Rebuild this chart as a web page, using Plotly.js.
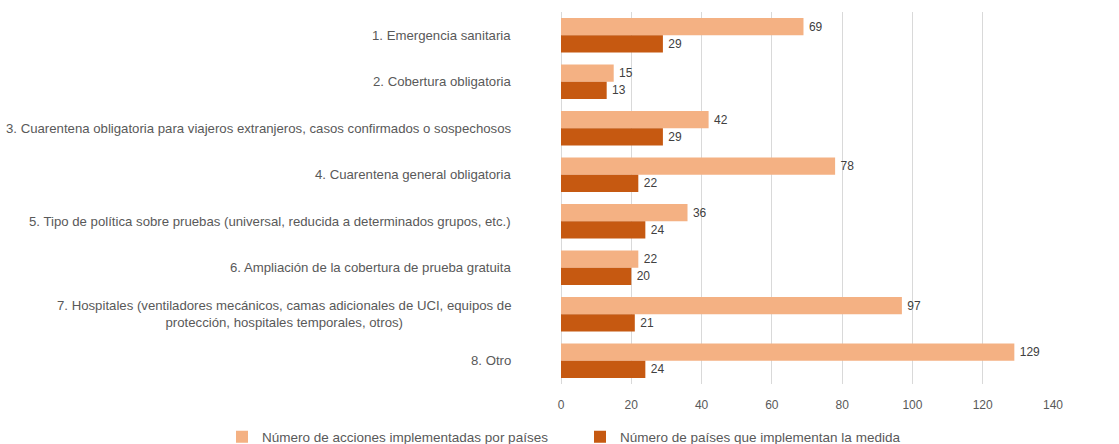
<!DOCTYPE html>
<html>
<head>
<meta charset="utf-8">
<script src="https://cdn.plot.ly/plotly-3.0.1.min.js"></script>
<style>html,body{margin:0;padding:0;background:#fff;}#chart{width:1119px;height:444px;}</style>
</head>
<body>
<div id="chart"></div>
<script>
const categories = [
  "1. Emergencia sanitaria",
  "2. Cobertura obligatoria",
  "3. Cuarentena obligatoria para viajeros extranjeros, casos confirmados o sospechosos",
  "4. Cuarentena general obligatoria",
  "5. Tipo de política sobre pruebas (universal, reducida a determinados grupos, etc.)",
  "6. Ampliación de la cobertura de prueba gratuita",
  "7. Hospitales (ventiladores mecánicos, camas adicionales de UCI, equipos de<br>protección, hospitales temporales, otros)",
  "8. Otro"
];
const accionesName = "Número de acciones implementadas por países";
const accionesValues = [69, 15, 42, 78, 36, 22, 97, 129];
const paisesName = "Número de países que implementan la medida";
const paisesValues = [29, 13, 29, 22, 24, 20, 21, 24];
const xTicks = [0, 20, 40, 60, 80, 100, 120, 140];

const FONT = "Liberation Sans, Arial, sans-serif";
const TXT = "#595959";

const traces = [
  {
    type: "bar", orientation: "h", name: accionesName,
    y: categories, x: accionesValues,
    marker: {color: "#F4B183"},
    text: accionesValues.map(v => "\u2009" + v), textposition: "outside",
    textfont: {family: FONT, size: 12, color: "#404040"},
    cliponaxis: false
  },
  {
    type: "bar", orientation: "h", name: paisesName,
    y: categories, x: paisesValues,
    marker: {color: "#C65911"},
    text: paisesValues.map(v => "\u2009" + v), textposition: "outside",
    textfont: {family: FONT, size: 12, color: "#404040"},
    cliponaxis: false
  }
];

const annotations = categories.map(c => ({
  xref: "paper", yref: "y", x: 0, y: c, xanchor: "right", yanchor: "middle",
  xshift: -48, text: c, showarrow: false, align: "center",
  font: {family: FONT, size: 13.2, color: TXT}
}));

const layout = {
  width: 1119, height: 444,
  margin: {l: 561, r: 66, t: 12, b: 60, autoexpand: false},
  paper_bgcolor: "#fff", plot_bgcolor: "#fff",
  barmode: "group", bargap: 0.26, bargroupgap: 0,
  font: {family: FONT, size: 12, color: TXT},
  xaxis: {
    range: [0, 140], tickvals: xTicks, ticktext: xTicks.map(String),
    showgrid: true, gridcolor: "#D9D9D9", gridwidth: 1,
    zeroline: true, zerolinecolor: "#D9D9D9", zerolinewidth: 1,
    showline: false, ticks: "", ticklabelstandoff: 12,
    tickfont: {family: FONT, size: 12, color: TXT}, fixedrange: true,
    automargin: false
  },
  yaxis: {
    type: "category", autorange: "reversed", showticklabels: false,
    showgrid: false, zeroline: false, showline: false, ticks: "", fixedrange: true,
    automargin: false
  },
  annotations: annotations,
  showlegend: true,
  legend: {
    orientation: "h", xref: "paper", yref: "paper",
    x: (222 - 561) / 492, xanchor: "left", y: -0.1425, yanchor: "middle",
    entrywidth: 313, entrywidthmode: "pixels", itemwidth: 30,
    font: {family: FONT, size: 13.5, color: TXT}, traceorder: "normal",
    bgcolor: "rgba(0,0,0,0)"
  }
};

Plotly.newPlot("chart", traces, layout, {displayModeBar: false, staticPlot: true});
</script>
</body>
</html>
